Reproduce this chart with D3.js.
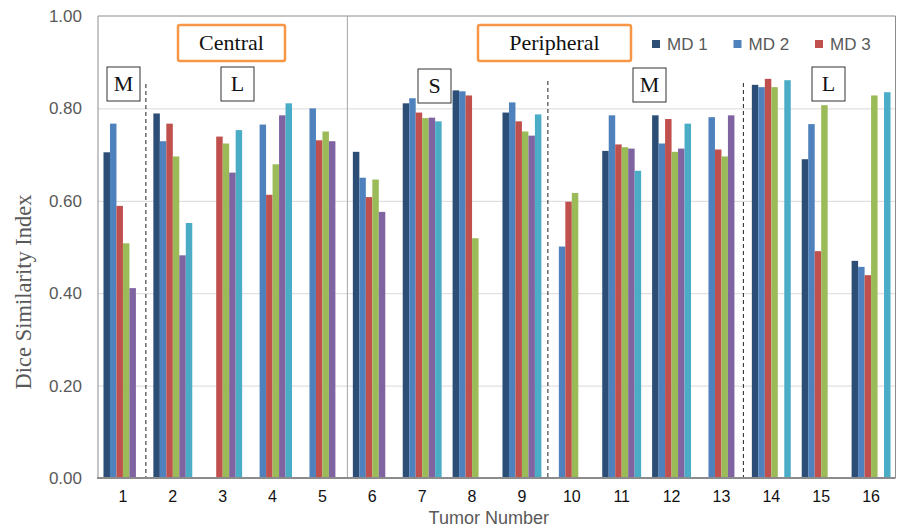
<!DOCTYPE html>
<html>
<head>
<meta charset="utf-8">
<script src="https://cdn.jsdelivr.net/npm/d3@7"></script>
<style>
	body { margin: 0; background: #fff; }
	svg { display: block; }
</style>
</head>
<body>
<div id="chart"></div>
<script>
(function () {
	"use strict";

	var WIDTH = 899;
	var HEIGHT = 528;

	var tumors = ['1', '2', '3', '4', '5', '6', '7', '8', '9', '10', '11', '12', '13', '14', '15', '16'];
	var series = ['MD 1', 'MD 2', 'MD 3', 'MD 4', 'MD 5', 'MD 6'];
	var legendSeries = ['MD 1', 'MD 2', 'MD 3'];

	var md1 = [0.705, 0.789, null, null, null, 0.706, 0.811, 0.839, 0.791, null, 0.708, 0.785, null, 0.851, 0.690, 0.470];
	var md2 = [0.767, 0.729, null, 0.765, 0.800, 0.650, 0.822, 0.837, 0.813, 0.501, 0.785, 0.724, 0.781, 0.846, 0.766, 0.457];
	var md3 = [0.589, 0.767, 0.739, 0.613, 0.731, 0.608, 0.791, 0.828, 0.772, 0.598, 0.722, 0.777, 0.711, 0.864, 0.491, 0.439];
	var md4 = [0.508, 0.696, 0.724, 0.679, 0.750, 0.646, 0.779, 0.519, 0.750, 0.617, 0.716, 0.706, 0.696, 0.846, 0.807, 0.828];
	var md5 = [0.411, 0.482, 0.661, 0.785, 0.729, 0.576, 0.780, null, 0.741, null, 0.713, 0.713, 0.785, null, null, null];
	var md6 = [null, 0.552, 0.753, 0.811, null, null, 0.772, null, 0.787, null, 0.665, 0.767, null, 0.861, null, 0.835];
	var values = [md1, md2, md3, md4, md5, md6];

	var yTicks = [0, 0.2, 0.4, 0.6, 0.8, 1.0];

	var colors = ['#2c4d75', '#4f81bd', '#c0504d', '#9bbb59', '#8064a2', '#4bacc6'];

	var plot = { left: 98, right: 895.5, top: 16, bottom: 478 };

	var x = d3.scaleBand()
		.domain(tumors)
		.range([plot.left, 896])
		.paddingInner(0.22)
		.paddingOuter(0.11);

	var xInner = d3.scaleBand()
		.domain(series)
		.range([0, x.bandwidth()]);

	var y = d3.scaleLinear()
		.domain([0, 1])
		.range([plot.bottom, plot.top]);

	var color = d3.scaleOrdinal().domain(series).range(colors);

	var svg = d3.select('#chart').append('svg')
		.attr('width', WIDTH)
		.attr('height', HEIGHT);

	// gridlines
	svg.append('g')
		.attr('transform', 'translate(' + plot.left + ',0)')
		.call(d3.axisLeft(y).tickValues(yTicks.slice(1, -1)).tickSize(-(plot.right - plot.left)).tickFormat(''))
		.call(function (g) {
			g.select('.domain').remove();
			g.selectAll('line').attr('stroke', '#d9d9d9');
		});

	// frame
	svg.append('path')
		.attr('d', 'M' + plot.left + ',' + plot.bottom + 'V' + plot.top + 'H' + plot.right + 'V' + plot.bottom)
		.attr('fill', 'none')
		.attr('stroke', '#8c8c8c')
		.attr('stroke-width', 1);

	// central / peripheral divider
	var divider = x(tumors[5]) - (x.step() - x.bandwidth()) / 2;
	svg.append('line')
		.attr('x1', divider).attr('x2', divider)
		.attr('y1', plot.top).attr('y2', plot.bottom)
		.attr('stroke', '#a6a6a6')
		.attr('stroke-width', 1);

	// bars
	var groups = svg.append('g')
		.selectAll('g')
		.data(tumors)
		.enter()
		.append('g')
		.attr('transform', function (t) { return 'translate(' + x(t) + ',0)'; });

	groups.selectAll('rect')
		.data(function (t, i) {
			return series.map(function (s, k) { return { series: s, value: values[k][i] }; })
				.filter(function (d) { return d.value !== null; });
		})
		.enter()
		.append('rect')
		.attr('x', function (d) { return xInner(d.series); })
		.attr('y', function (d) { return y(d.value); })
		.attr('width', xInner.bandwidth())
		.attr('height', function (d) { return y(0) - y(d.value); })
		.attr('fill', function (d) { return color(d.series); });

	// size class separators
	[{ after: 0, top: 84, dx: -2 }, { after: 8, top: 81, dx: 1 }, { after: 12, top: 83, dx: -3 }].forEach(function (sep) {
		var xs = x(tumors[sep.after + 1]) - (x.step() - x.bandwidth()) / 2 + sep.dx;
		svg.append('line')
			.attr('x1', xs).attr('x2', xs)
			.attr('y1', sep.top).attr('y2', plot.bottom)
			.attr('stroke', '#222')
			.attr('stroke-width', 1)
			.attr('stroke-dasharray', '4,3');
	});

	// x axis
	svg.append('g')
		.attr('transform', 'translate(0,' + plot.bottom + ')')
		.call(d3.axisBottom(x).tickSize(0).tickPadding(13))
		.call(function (g) {
			g.select('.domain')
				.attr('stroke', '#8c8c8c')
				.attr('stroke-width', 2)
				.attr('d', 'M' + (plot.left - 1) + ',0H' + plot.right);
			g.selectAll('text')
				.attr('fill', '#111')
				.style('font-family', '"Liberation Sans", Arial, sans-serif')
				.style('font-size', '16px');
		});

	// y axis labels
	svg.append('g')
		.attr('transform', 'translate(' + plot.left + ',0)')
		.call(d3.axisLeft(y).tickValues(yTicks).tickFormat(d3.format('.2f')).tickSize(0).tickPadding(16))
		.call(function (g) {
			g.select('.domain').remove();
			g.selectAll('text')
				.attr('fill', '#595959')
				.style('font-family', '"Liberation Sans", Arial, sans-serif')
				.style('font-size', '17px');
		});

	svg.append('text')
		.text('Tumor Number')
		.attr('x', (plot.left + plot.right) / 2 - 8)
		.attr('y', 524)
		.attr('text-anchor', 'middle')
		.attr('fill', '#595959')
		.style('font-family', '"Liberation Sans", Arial, sans-serif')
		.style('font-size', '18px');

	svg.append('text')
		.text('Dice Similarity Index')
		.attr('transform', 'translate(31,292) rotate(-90)')
		.attr('text-anchor', 'middle')
		.attr('fill', '#595959')
		.style('font-family', '"Liberation Serif", "Times New Roman", serif')
		.style('font-size', '22.5px');

	// location labels
	[{ text: 'Central', x: 178, w: 107 }, { text: 'Peripheral', x: 478, w: 153 }].forEach(function (b) {
		svg.append('rect')
			.attr('x', b.x).attr('y', 25)
			.attr('width', b.w).attr('height', 36)
			.attr('rx', 2)
			.attr('fill', '#fff')
			.attr('stroke', '#f79646')
			.attr('stroke-width', 2.5);
		svg.append('text')
			.text(b.text)
			.attr('x', b.x + b.w / 2)
			.attr('y', 50)
			.attr('text-anchor', 'middle')
			.attr('fill', '#111')
			.style('font-family', '"Liberation Serif", "Times New Roman", serif')
			.style('font-size', '22px');
	});

	// size labels
	[{ text: 'M', x: 107, y: 67 }, { text: 'L', x: 221, y: 67 }, { text: 'S', x: 418, y: 69 },
		{ text: 'M', x: 633, y: 68 }, { text: 'L', x: 812, y: 67 }].forEach(function (b) {
		svg.append('rect')
			.attr('x', b.x).attr('y', b.y)
			.attr('width', 33).attr('height', 34)
			.attr('fill', '#fff')
			.attr('stroke', '#333')
			.attr('stroke-width', 1);
		svg.append('text')
			.text(b.text)
			.attr('x', b.x + 16.5)
			.attr('y', b.y + 24)
			.attr('text-anchor', 'middle')
			.attr('fill', '#111')
			.style('font-family', '"Liberation Serif", "Times New Roman", serif')
			.style('font-size', '22px');
	});

	// legend
	var legend = svg.append('g')
		.selectAll('g')
		.data(legendSeries)
		.enter()
		.append('g')
		.attr('transform', function (_, i) { return 'translate(' + (652 + i * 81.5) + ',40)'; });

	legend.append('rect')
		.attr('width', 8)
		.attr('height', 8)
		.attr('fill', function (s) { return color(s); });

	legend.append('text')
		.text(function (s) { return s; })
		.attr('x', 15)
		.attr('y', 9.5)
		.attr('fill', '#595959')
		.style('font-family', '"Liberation Sans", Arial, sans-serif')
		.style('font-size', '17px');
}());
</script>
</body>
</html>
